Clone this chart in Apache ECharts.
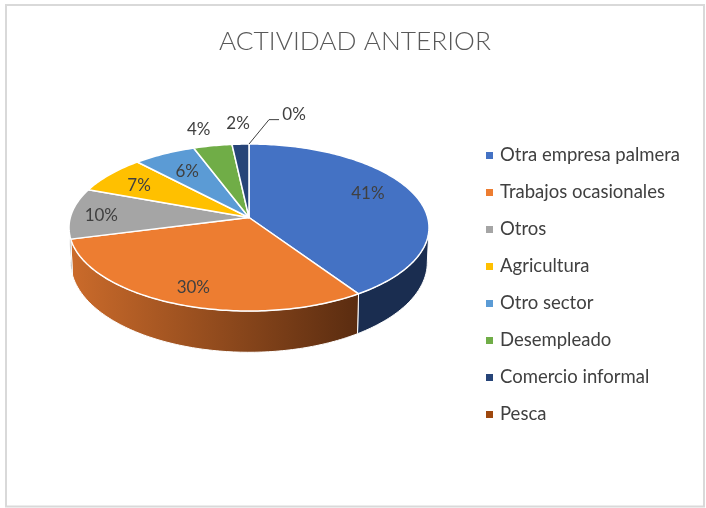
<!DOCTYPE html>
<html>
<head>
<meta charset="utf-8">
<style>
  html, body { margin: 0; padding: 0; background: #fff; }
  #chart { width: 706px; height: 508px; }
</style>
<script src="https://cdn.jsdelivr.net/npm/echarts@6/dist/echarts.min.js"></script>
</head>
<body>
<div id="chart"></div>
<script>
const categories = ['Otra empresa palmera', 'Trabajos ocasionales', 'Otros', 'Agricultura', 'Otro sector', 'Desempleado', 'Comercio informal', 'Pesca'];
const shares = [40.7, 30.2, 9.8, 7.4, 6.3, 3.9, 1.7, 0];

const colors = ['#4472C4', '#ED7D31', '#A5A5A5', '#FFC000', '#5B9BD5', '#70AD47', '#264478', '#9E480E'];

// where each % label sits on the disc: radius (1 = rim) and turn from the slice middle, in degrees
const labelRadius = [0.75, 0.82, 0.83, 0.76, 0.71, 1.27, 1.33, 1.5];
const labelTurn = [-6.5, -0.7, -0.8, -1.9, 0, -1.6, 0, 11.4];

// the two rims of the tilted disc, with perspective
const topDisc = { cx: 249, cy: 217.5, a: 178.7, b: 82.3 };
const bottomDisc = { cx: 249, cy: 251.6, a: 177, b: 88.6 };
const perspective = 0.12;
// the wall is only seen between the two tangent points of the rim
const wallFrom = 96.9;
const wallTo = 263.1;

function project(disc, deg, r) {
  const t = deg * Math.PI / 180;
  const x = Math.sin(t) * r;
  const y = Math.cos(t) * r;
  const w = 1 + perspective * y;
  return [disc.cx + disc.a * x / w, disc.cy - disc.b * y / w];
}

function rim(disc, from, to) {
  const pts = [];
  const n = Math.max(1, Math.ceil(Math.abs(to - from)));
  for (let i = 0; i <= n; i++) {
    pts.push(project(disc, from + (to - from) * i / n, 1));
  }
  return pts;
}

function wallFill(i) {
  if (i === 1) {
    return new echarts.graphic.LinearGradient(0, 0, 1, 0, [
      { offset: 0, color: '#CB6B2B' },
      { offset: 1, color: '#5A2C10' }
    ]);
  }
  if (i === 0) return '#1A2D50';
  return '#6E6E6E';
}

const series = categories.map((name, i) => {
  const start = shares.slice(0, i).reduce((s, v) => s + v, 0);
  return {
    name: name,
    type: 'custom',
    coordinateSystem: 'none',
    silent: true,
    animation: false,
    itemStyle: { color: colors[i] },
    data: [[shares[i]]],
    renderItem: (params, api) => {
      const from = start * 3.6;
      const to = from + api.value(0) * 3.6;
      const children = [];

      const wallA = Math.max(from, wallFrom);
      const wallB = Math.min(to, wallTo);
      if (wallB > wallA) {
        const wall = rim(topDisc, wallA, wallB).concat(rim(bottomDisc, wallB, wallA));
        children.push({
          type: 'polygon',
          shape: { points: wall },
          style: { fill: wallFill(i), stroke: '#fff', lineWidth: 1 }
        });
      }

      if (to > from) {
        children.push({
          type: 'polygon',
          shape: { points: [project(topDisc, 0, 0)].concat(rim(topDisc, from, to)) },
          style: { fill: colors[i], stroke: '#fff', lineWidth: 1.5, lineJoin: 'round' }
        });
      }

      const pos = project(topDisc, (from + to) / 2 + labelTurn[i], labelRadius[i]);
      if (to === from) {
        // empty slice gets a leader line out to its label
        children.push({
          type: 'polyline',
          shape: { points: [project(topDisc, from, 1), [pos[0] - 25, pos[1] + 5], [pos[0] - 15, pos[1] + 5]] },
          style: { fill: 'none', stroke: '#404040', lineWidth: 1 }
        });
      }
      children.push({
        type: 'text',
        z2: 10,
        style: {
          x: pos[0],
          y: pos[1],
          text: Math.round(api.value(0)) + '%',
          fill: '#404040',
          font: '17px Lato',
          align: 'center',
          verticalAlign: 'middle'
        }
      });
      return { type: 'group', children: children };
    }
  };
});

const chart = echarts.init(document.getElementById('chart'), null, { renderer: 'canvas' });
chart.setOption({
  backgroundColor: '#fff',
  animation: false,
  title: {
    text: 'ACTIVIDAD ANTERIOR',
    left: 214,
    top: 24,
    textStyle: { color: '#595959', fontFamily: 'Lato', fontWeight: 300, fontSize: 26.3 }
  },
  legend: {
    orient: 'vertical',
    left: 481,
    top: 141,
    icon: 'rect',
    itemWidth: 7,
    itemHeight: 7,
    itemGap: 18,
    selectedMode: false,
    data: categories,
    textStyle: { color: '#404040', fontFamily: 'Lato', fontSize: 18.5, padding: [0, 0, 0, 2] }
  },
  graphic: [{
    type: 'rect',
    silent: true,
    shape: { x: 6, y: 5, width: 698, height: 501.5 },
    style: { fill: 'none', stroke: '#D9D9D9', lineWidth: 2 }
  }],
  series: series
});
</script>
</body>
</html>
